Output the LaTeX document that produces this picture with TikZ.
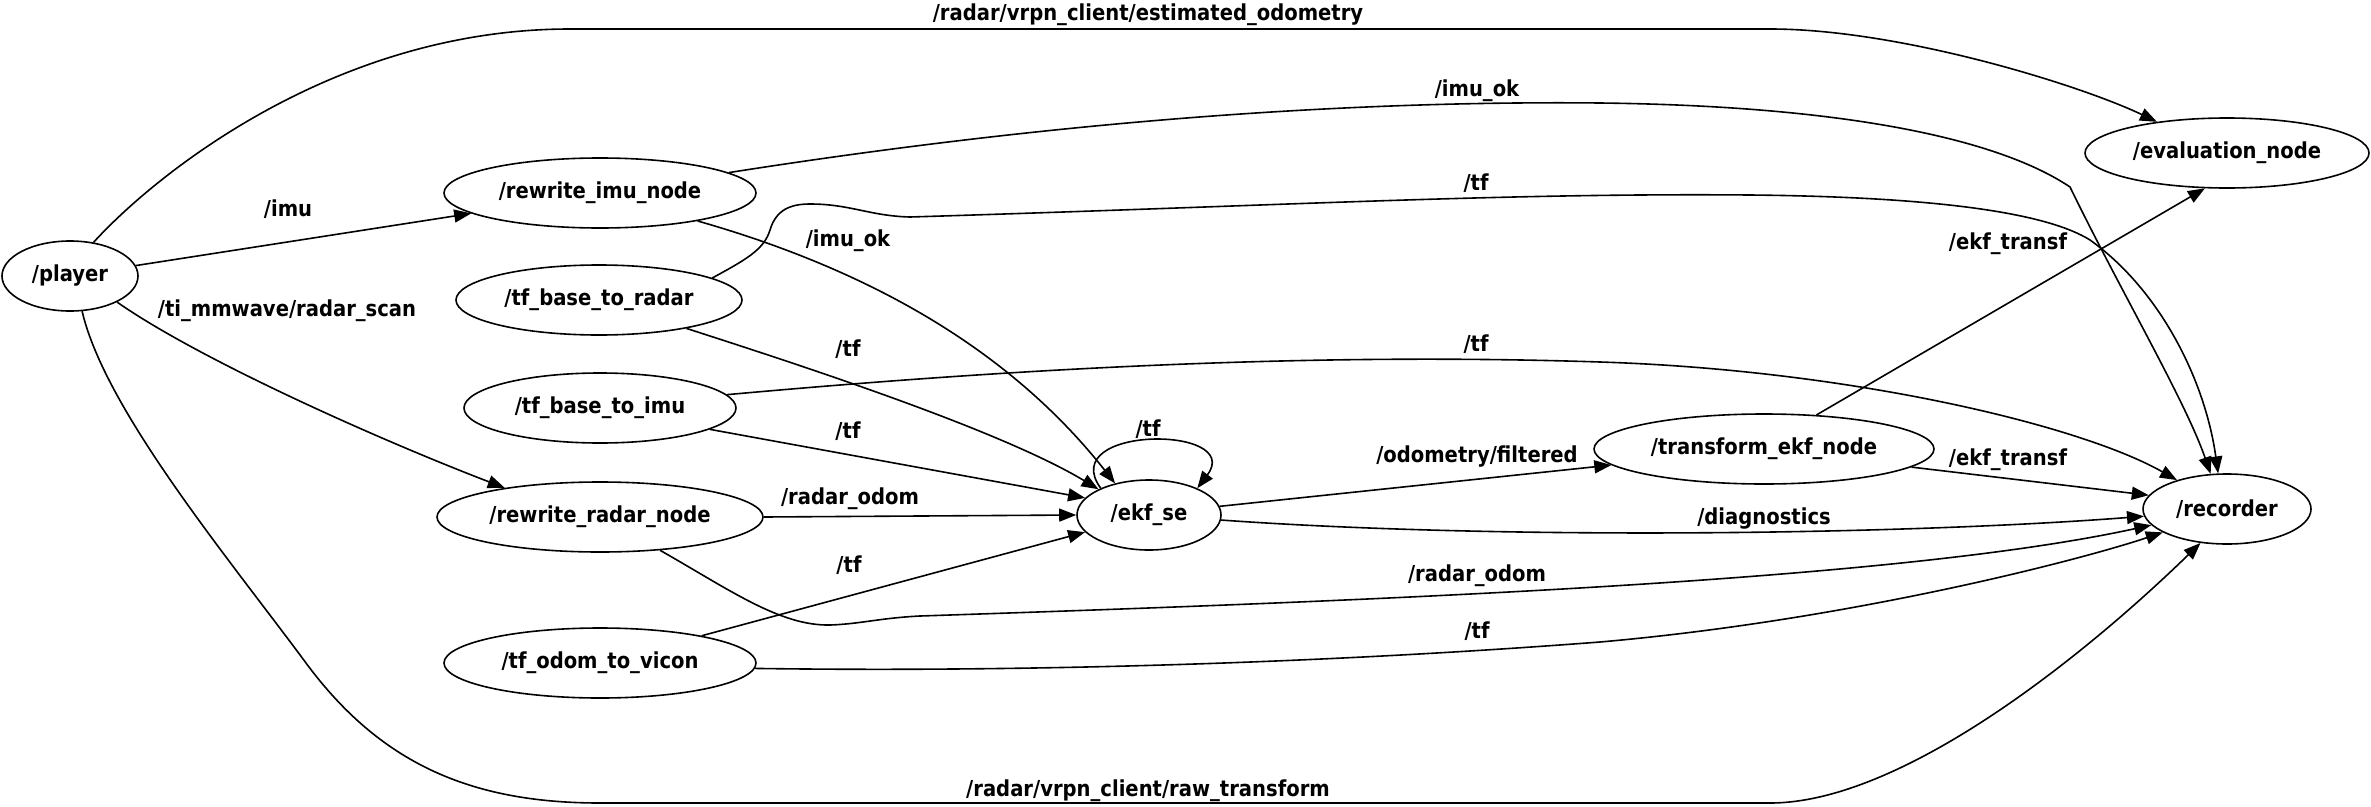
\documentclass[tikz,border=0pt]{standalone}
\usepackage{fontspec}
\setmainfont{DejaVu Sans}[FakeStretch=0.89]
\usetikzlibrary{shapes.geometric,arrows.meta}
\begin{document}
\begin{tikzpicture}[x=1pt,y=-1pt,
  nd/.style={ellipse,draw,line width=1.6pt,inner sep=0pt,minimum height=70pt,font=\fontsize{22}{26}\selectfont\bfseries},
  lb/.style={inner sep=0pt,font=\fontsize{22}{26}\selectfont\bfseries},
  edge/.style={line width=1.6pt,-{Triangle[length=17pt,width=13pt]}}]
\fill[white] (0,0) rectangle (2371,806);
\useasboundingbox (0,0) rectangle (2371,806);

% nodes
\node[nd,minimum width=136pt] (player) at (70,276) {/player};
\node[nd,minimum width=312pt] (rewimu) at (600,193) {/rewrite\_imu\_node};
\node[nd,minimum width=286pt] (tfradar) at (599,300) {/tf\_base\_to\_radar};
\node[nd,minimum width=272pt] (tfimu) at (600,408) {/tf\_base\_to\_imu};
\node[nd,minimum width=326pt] (rewradar) at (600,517) {/rewrite\_radar\_node};
\node[nd,minimum width=312pt] (tfvicon) at (600,663) {/tf\_odom\_to\_vicon};
\node[nd,minimum width=144pt] (ekf) at (1149,515) {/ekf\_se};
\node[nd,minimum width=340pt] (transf) at (1764,449) {/transform\_ekf\_node};
\node[nd,minimum width=168pt] (recorder) at (2227,509) {/recorder};
\node[nd,minimum width=284pt] (evaluation) at (2227,153) {/evaluation\_node};

% edges
\draw[edge] (player.55) .. controls (150,180) and (330,29) .. (570,29) -- (1770,29)
  .. controls (1900,29) and (2080,85) .. (evaluation.156);
\draw[edge] (player.9) -- (rewimu.189);
\draw[edge] (player.-29) .. controls (200,360) and (380,440) .. (rewradar.163);
\draw[edge] (player.-71) .. controls (105,410) and (230,560) .. (306,663)
  .. controls (380,763) and (470,803) .. (600,803) -- (1770,803)
  .. controls (1900,803) and (2080,660) .. (recorder.-128);
\draw[edge] (rewimu.9) .. controls (1000,130) and (1300,100) .. (1600,103)
  .. controls (1850,106) and (2000,140) .. (2070,187)
  .. controls (2120,290) and (2185,400) .. (recorder.115);
\draw[edge] (rewimu.-16) .. controls (870,270) and (1010,350) .. (ekf.137);
\draw[edge] (tfradar.11) .. controls (745,260) and (764,250) .. (770,230)
  .. controls (776,210) and (790,204) .. (810,204)
  .. controls (850,204) and (870,216) .. (910,217)
  .. controls (1300,205) and (1500,193) .. (1750,195)
  .. controls (1950,197) and (2050,215) .. (2090,240)
  .. controls (2160,290) and (2205,380) .. (recorder.104);
\draw[edge] (tfradar.-18) .. controls (800,365) and (1000,430) .. (ekf.153);
\draw[edge] (tfimu.6) .. controls (1000,370) and (1300,352) .. (1600,362)
  .. controls (1850,370) and (2080,425) .. (recorder.150);
\draw[edge] (tfimu.-11) -- (ekf.165);
\draw[edge] (ekf.151) .. controls (1055,425) and (1245,425) .. (ekf.29);
\draw[edge] (rewradar.0) -- (ekf.180);
\draw[edge] (rewradar.-29) .. controls (730,590) and (780,626) .. (830,625)
  .. controls (860,624) and (880,618) .. (920,616)
  .. controls (1400,600) and (1900,580) .. (recorder.192);
\draw[edge] (tfvicon.15) -- (ekf.195);
\draw[edge] (tfvicon.-2) .. controls (1000,672) and (1300,665) .. (1600,642)
  .. controls (1850,620) and (2080,560) .. (recorder.200);
\draw[edge] (ekf.7) -- (transf.186);
\draw[edge] (ekf.-4) .. controls (1500,540) and (1900,535) .. (recorder.185);
\draw[edge] (transf.33) -- (evaluation.238);
\draw[edge] (transf.-7) -- (recorder.170);

% labels
\node[lb] (l1) at (1148,15) {/radar/vrpn\_client/estimated\_odometry};
\node[lb] (l2) at (288,209) {/imu};
\node[lb] (l3) at (287,311) {/ti\_mmwave/radar\_scan};
\node[lb] (l4) at (1148,791) {/radar/vrpn\_client/raw\_transform};
\node[lb] (l5) at (1477,91) {/imu\_ok};
\node[lb] (l6) at (848,241) {/imu\_ok};
\node[lb] (l7) at (1476,183) {/tf};
\node[lb] (l8) at (848,349) {/tf};
\node[lb] (l9) at (1476,344) {/tf};
\node[lb] (l10) at (848,431) {/tf};
\node[lb] (l11) at (1148,429) {/tf};
\node[lb] (l12) at (850,499) {/radar\_odom};
\node[lb] (l13) at (1477,576) {/radar\_odom};
\node[lb] (l14) at (849,565) {/tf};
\node[lb] (l15) at (1477,631) {/tf};
\node[lb] (l16) at (1477,457) {/odometry/filtered};
\node[lb] (l17) at (1764,519) {/diagnostics};
\node[lb] (l18) at (2008,244) {/ekf\_transf};
\node[lb] (l19) at (2008,460) {/ekf\_transf};
\end{tikzpicture}
\end{document}
